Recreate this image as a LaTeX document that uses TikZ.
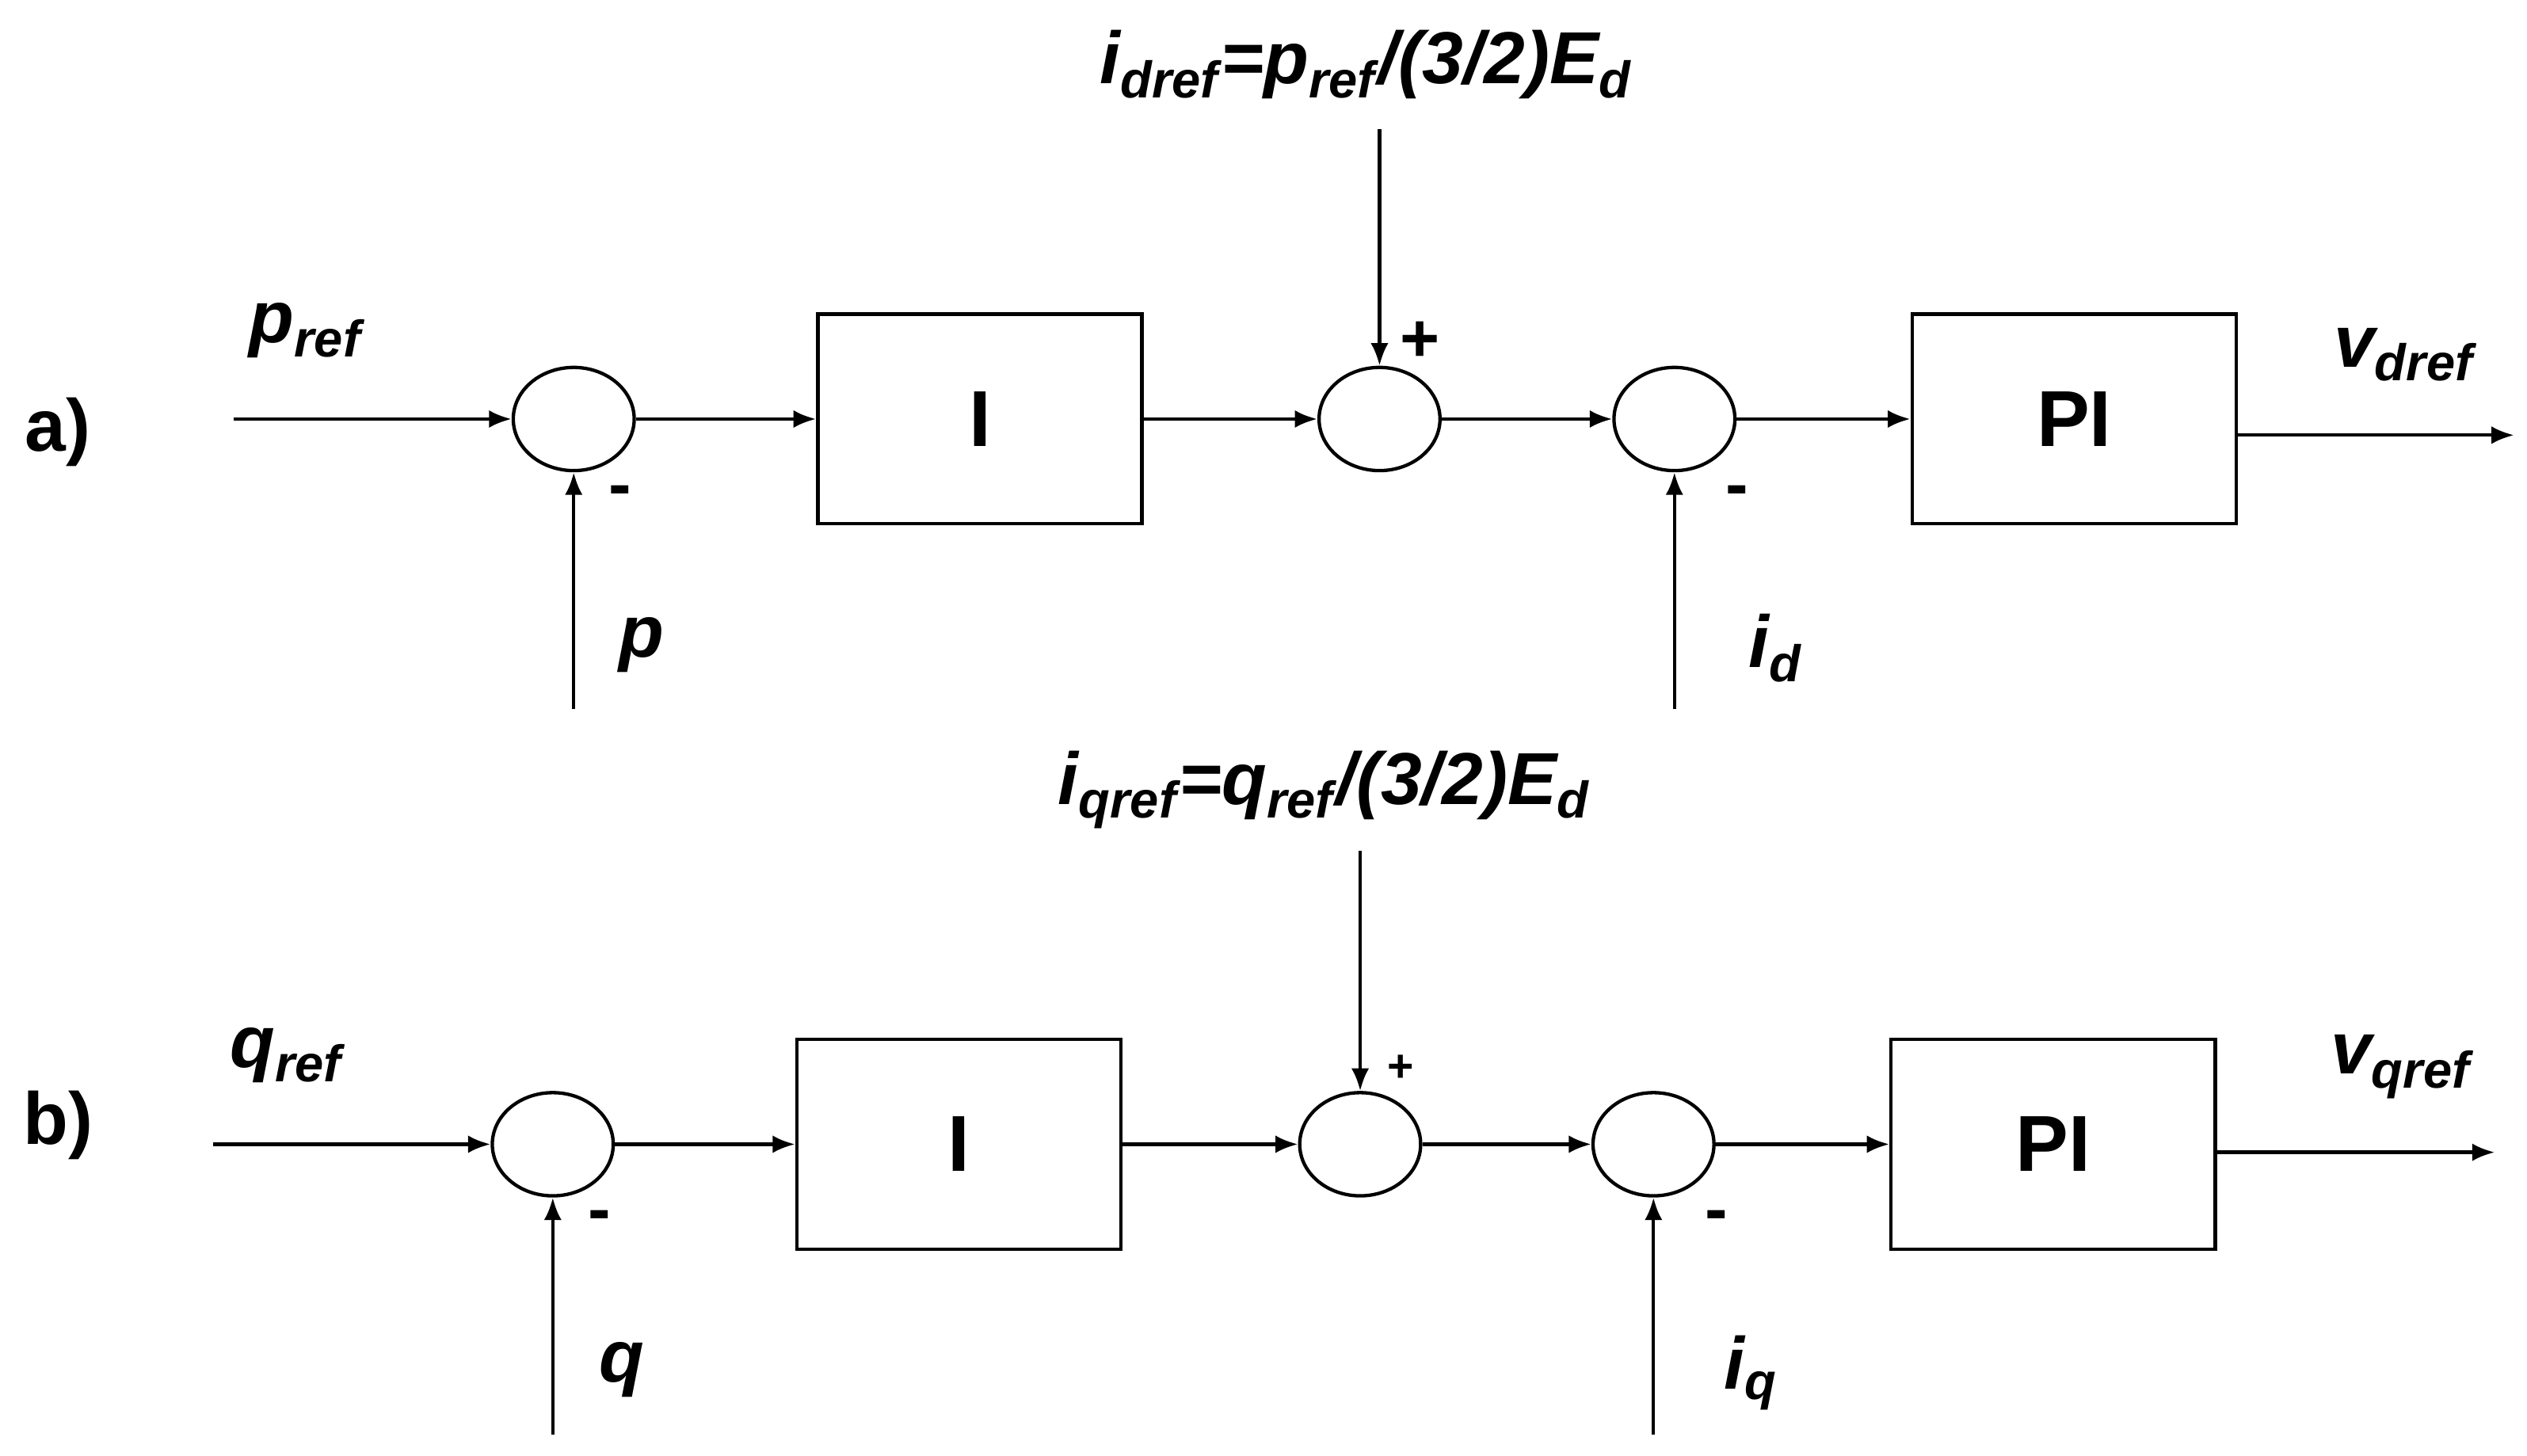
\documentclass[tikz,border=0pt]{standalone}
\usepackage{fontspec}
\setmainfont{Liberation Sans}
\usetikzlibrary{arrows.meta,shapes.geometric}
\begin{document}
\begin{tikzpicture}[x=0.01cm,y=-0.01cm,
  line width=0.6pt,
  arr/.style={-{Latex[length=1.4mm,width=1.1mm]}},
  sum/.style={draw,ellipse,minimum width=0.75cm,minimum height=0.64cm,inner sep=0pt},
  blk/.style={draw,minimum width=2.01cm,minimum height=1.3cm,font=\fontsize{14}{16}\selectfont\bfseries},
  lbl/.style={font=\fontsize{13}{15}\selectfont\bfseries\itshape,inner sep=0pt},
  tag/.style={font=\fontsize{13}{15}\selectfont\bfseries,inner sep=0pt},
  sg/.style={font=\fontsize{12}{14}\selectfont\bfseries,inner sep=0pt}]
\useasboundingbox (0,0) rectangle (1568,903);
% ---- a)
\node[tag] (la) at (36,268) {a)};
\coordinate (ina) at (145,260);
\node[sum] (s1a) at (356,260) {};
\node[blk] (Ia) at (608,260) {I};
\node[sum] (s2a) at (856,260) {};
\node[sum] (s3a) at (1039,260) {};
\node[blk] (PIa) at (1287,260) {PI};
\coordinate (outa) at (1560,270);
\coordinate (pa) at (356,440);
\coordinate (ida) at (1039,440);
\node[lbl] (topa) at (848,40) {i\textsubscript{dref}=p\textsubscript{ref}/(3/2)E\textsubscript{d}};
\coordinate (ta) at (856,80);
\draw[arr] (ina) -- (s1a);
\draw[arr] (s1a) -- (Ia);
\draw[arr] (Ia) -- (s2a);
\draw[arr] (s2a) -- (s3a);
\draw[arr] (s3a) -- (PIa);
\draw[arr] (PIa.east |- outa) -- (outa);
\draw[arr] (pa) -- (s1a);
\draw[arr] (ida) -- (s3a);
\draw[arr] (ta) -- (s2a);
\node[lbl] (pra) at (190,205) {p\textsubscript{ref}};
\node[lbl] (vda) at (1492,220) {v\textsubscript{dref}};
\node[lbl] (pla) at (398,400) {p};
\node[lbl] (idl) at (1102,402) {i\textsubscript{d}};
\node[sg] (m1a) at (385,308) {-};
\node[sg] (m3a) at (1078,308) {-};
\node[sg] (p2a) at (881,212) {+};
% ---- b)
\node[tag] (lb) at (36,698) {b)};
\coordinate (inb) at (132,710);
\node[sum] (s1b) at (343,710) {};
\node[blk] (Ib) at (595,710) {I};
\node[sum] (s2b) at (844,710) {};
\node[sum] (s3b) at (1026,710) {};
\node[blk] (PIb) at (1274,710) {PI};
\coordinate (outb) at (1548,715);
\coordinate (qb) at (343,890);
\coordinate (iqb) at (1026,890);
\node[lbl] (topb) at (822,490) {i\textsubscript{qref}=q\textsubscript{ref}/(3/2)E\textsubscript{d}};
\coordinate (tb) at (844,528);
\draw[arr] (inb) -- (s1b);
\draw[arr] (s1b) -- (Ib);
\draw[arr] (Ib) -- (s2b);
\draw[arr] (s2b) -- (s3b);
\draw[arr] (s3b) -- (PIb);
\draw[arr] (PIb.east |- outb) -- (outb);
\draw[arr] (qb) -- (s1b);
\draw[arr] (iqb) -- (s3b);
\draw[arr] (tb) -- (s2b);
\node[lbl] (qrb) at (178,655) {q\textsubscript{ref}};
\node[lbl] (vqb) at (1490,662) {v\textsubscript{qref}};
\node[lbl] (qlb) at (386,850) {q};
\node[lbl] (iql) at (1087,852) {i\textsubscript{q}};
\node[sg] (m1b) at (372,758) {-};
\node[sg] (m3b) at (1065,758) {-};
\node[font=\fontsize{8}{9}\selectfont\bfseries,inner sep=0pt] (p2b) at (869,663) {+};
\end{tikzpicture}
\end{document}
